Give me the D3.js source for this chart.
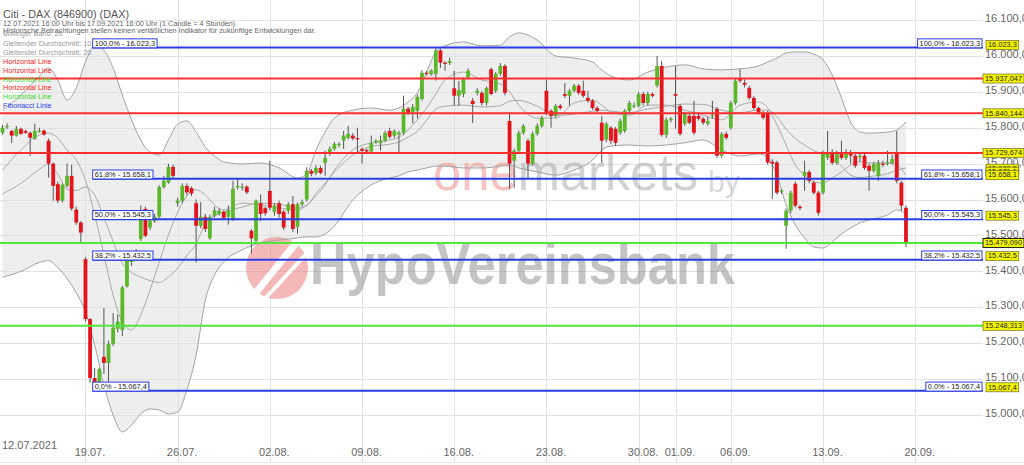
<!DOCTYPE html>
<html><head><meta charset="utf-8">
<script src="https://cdn.jsdelivr.net/npm/d3@7"></script>
<style>body{margin:0;background:#fff}svg{display:block;font-family:"Liberation Sans",Arial,sans-serif}</style>
</head><body><svg id="c" width="1024" height="465"></svg>
<script>
// ---------- DATA ----------
const opens=[15786,15802,15791,15778,15797,15791,15786,15770,15790,15792,
15764,15700,15643,15597,15638,15666,15572,15536,15434,15267,
15103,15087,15162,15145,15198,15240,15237,15358,15426,15445,
15490,15574,15522,15540,15552,15635,15647,15691,15590,15597,
15638,15632,15590,15527,15552,15492,15555,15560,15566,15552,
15546,15634,15634,15636,15513,15485,15590,15576,15624,15566,
15590,15566,15569,15587,15524,15587,15600,15680,15674,15688,
15702,15727,15741,15752,15764,15772,15778,15771,15741,15738,
15734,15760,15757,15764,15791,15778,15781,15786,15853,15842,
15847,15880,15953,15949,15950,16015,15981,15980,15910,15889,
15894,15940,15875,15897,15897,15869,15963,15903,15950,15972,
15819,15708,15736,15786,15764,15700,15783,15805,15903,15847,
15833,15861,15894,15889,15903,15917,15903,15883,15875,15855,
15814,15767,15800,15797,15786,15791,15847,15860,15861,15894,
15869,15894,15917,15972,15780,15822,15894,15861,15811,15833,
15833,15833,15825,15811,15833,15852,15722,15783,15800,15869,
15936,15925,15911,15883,15855,15842,15842,15705,15703,15622,
15527,15569,15644,15580,15666,15677,15647,15619,15619,15716,
15730,15702,15730,15716,15730,15722,15718,15722,15694,15680,
15666,15700,15700,15702,15730,15647,15577];
const highs=[15808,15812,15794,15805,15800,15794,15789,15811,15800,15795,
15770,15703,15650,15645,15700,15697,15580,15540,15440,15270,
15131,15131,15298,15207,15284,15280,15360,15450,15455,15462,
15583,15580,15548,15560,15640,15666,15700,15697,15605,15645,
15645,15636,15600,15593,15560,15558,15580,15575,15570,15583,
15652,15660,15645,15640,15518,15600,15614,15580,15708,15590,
15597,15572,15592,15610,15592,15600,15690,15685,15695,15694,
15736,15748,15760,15760,15791,15805,15785,15800,15745,15742,
15778,15768,15778,15792,15800,15795,15792,15889,15858,15866,
15892,15960,15958,15963,16023.3,16020,15986,15995,15959,15930,
15940,15965,15883,15910,15903,15915,15968,15955,15980,15977,
15842,15742,15792,15810,15770,15790,15812,15833,15935,15852,
15866,15866,15924,15908,15922,15922,15931,15903,15880,15860,
15833,15816,15805,15802,15825,15852,15875,15870,15900,15900,
15900,15898,16000,15986,15828,15830,15972,15866,15845,15838,
15875,15840,15830,15830,15875,15858,15788,15790,15875,15937,
15963,15935,15917,15888,15858,15847,15847,15712,15708,15630,
15575,15625,15650,15585,15708,15682,15652,15624,15736,15791,
15740,15736,15764,15740,15738,15728,15730,15728,15700,15705,
15710,15708,15736,15725,15791,15652,15583];
const lows=[15780,15797,15758,15775,15780,15783,15722,15766,15786,15778,
15661,15597,15590,15592,15633,15569,15530,15480,15260,15090,
15067.4,15068,15114,15087,15192,15230,15220,15355,15415,15440,
15485,15495,15515,15535,15548,15630,15644,15660,15580,15590,
15612,15610,15425,15520,15510,15488,15550,15555,15545,15530,
15540,15628,15625,15615,15450,15480,15540,15555,15570,15555,
15550,15515,15560,15510,15505,15580,15595,15665,15668,15670,
15666,15722,15736,15746,15741,15768,15765,15730,15700,15728,
15730,15755,15736,15760,15770,15772,15730,15780,15835,15812,
15826,15875,15945,15945,15931,15966,15959,15975,15861,15861,
15885,15935,15813,15890,15862,15862,15890,15897,15945,15890,
15630,15633,15730,15780,15660,15695,15778,15800,15835,15800,
15828,15850,15883,15861,15898,15892,15884,15870,15850,15842,
15702,15760,15755,15750,15780,15786,15842,15855,15856,15862,
15862,15884,15912,15775,15772,15815,15797,15778,15805,15810,
15780,15820,15808,15806,15825,15716,15716,15766,15795,15864,
15925,15912,15878,15850,15837,15823,15697,15602,15613,15616,
15463,15562,15578,15570,15624,15645,15614,15555,15614,15710,
15697,15697,15711,15710,15700,15688,15705,15683,15624,15675,
15652,15690,15695,15697,15645,15569,15468];
const closes=[15800,15805,15778,15797,15783,15786,15772,15791,15792,15781,
15700,15638,15597,15641,15666,15575,15536,15508,15267,15103,
15087,15128,15145,15198,15243,15260,15355,15446,15443,15452,
15568,15499,15541,15552,15635,15652,15691,15666,15597,15638,
15620,15617,15527,15552,15518,15552,15570,15569,15549,15569,
15630,15638,15636,15620,15492,15597,15560,15562,15577,15583,
15560,15522,15587,15518,15587,15593,15680,15672,15688,15674,
15716,15741,15755,15755,15778,15783,15770,15769,15736,15734,
15757,15764,15764,15786,15775,15791,15786,15853,15842,15858,
15886,15953,15950,15959,16015,15981,15980,15986,15889,15905,
15935,15959,15866,15903,15869,15911,15894,15950,15972,15897,
15700,15736,15786,15805,15700,15783,15805,15827,15842,15833,
15861,15855,15889,15903,15917,15897,15889,15875,15855,15847,
15764,15811,15764,15758,15819,15847,15869,15862,15894,15869,
15894,15889,15972,15780,15822,15825,15889,15783,15839,15814,
15786,15825,15814,15819,15836,15722,15783,15772,15869,15931,
15931,15920,15883,15855,15842,15828,15703,15700,15619,15626,
15569,15619,15583,15576,15677,15652,15619,15563,15730,15730,
15702,15730,15716,15730,15722,15694,15722,15688,15680,15699,
15702,15699,15704,15713,15652,15583,15479];

// indicator samples (candle index -> value)
const bandIdx=[0,4,8,10,12,14,16,18,20,22,24,26,28,30,32,34,36,38,40,42,44,46,48,52,56,60,64,66,68,70,
72,76,80,84,86,88,90,92,94,96,100,104,108,110,112,116,120,124,128,130,132,136,140,144,148,152,156,160,164,166,
168,170,172,174,176,178,180,182,184,186,188,192,194,196];
const bandUpper=[15849,15891,15944,15966,15933,15877,15911,15983,16030,16016,
15966,15891,15822,15766,15732,15724,15766,15810,15819,15788,
15746,15721,15705,15699,15702,15688,15660,15671,15738,15788,
15827,15849,15855,15849,15855,15872,15897,15955,16011,16028,
16039,16028,16030,16053,16064,16044,16000,15994,15983,15961,
15944,15933,15955,15969,15975,15964,15961,15964,15972,15983,
15994,16008,16011,16011,16005,15989,15947,15883,15816,15788,
15785,15788,15794,15816];
const bandLower=[15384,15400,15425,15430,15410,15380,15340,15287,15195,15084,
15000,14953,14972,15003,15017,15014,15003,15008,15070,15167,
15320,15390,15426,15460,15479,15487,15493,15496,15496,15504,
15526,15599,15641,15660,15666,15677,15682,15688,15693,15693,
15688,15688,15693,15696,15688,15677,15668,15682,15710,15738,
15749,15752,15749,15752,15758,15766,15738,15721,15727,15716,
15668,15585,15529,15493,15468,15465,15482,15504,15521,15535,
15543,15557,15571,15560];
const ma10=[15682,15738,15780,15785,15771,15738,15710,15654,15557,15446,
15334,15259,15237,15279,15348,15426,15501,15565,15610,15627,
15613,15585,15571,15590,15585,15577,15571,15585,15610,15641,
15682,15738,15758,15766,15774,15794,15822,15855,15894,15933,
15955,15933,15922,15900,15863,15827,15827,15869,15877,15863,
15844,15835,15863,15863,15849,15835,15822,15863,15872,15855,
15808,15752,15696,15668,15649,15646,15660,15677,15696,15705,
15702,15702,15696,15668];
const ma20=[15616,15645,15684,15698,15671,15628,15625,15635,15612,15550,
15483,15422,15397,15384,15374,15369,15384,15409,15444,15477,
15533,15555,15565,15579,15590,15587,15576,15583,15617,15646,
15676,15724,15748,15754,15760,15774,15790,15821,15852,15860,
15863,15858,15861,15874,15876,15860,15834,15838,15846,15849,
15846,15842,15852,15860,15866,15865,15849,15842,15849,15849,
15831,15796,15770,15752,15736,15727,15714,15693,15668,15661,
15664,15672,15682,15688];

const priceTicks=[15000,15100,15200,15300,15400,15500,15600,15700,15800,15900,16000,16100];
const dateTickIdx=[18,38,58,78,98,118,138,146,158,178,198];
const dateTickLabels=["19.07.","26.07.","02.08.","09.08.","16.08.","23.08.","30.08.","01.09.","06.09.","13.09.","20.09."];

const hLineValues=[15937.047,15840.144,15729.674,15479.090,15248.313];
const hLineColors=["#ff2e2e","#ff2e2e","#ff2e2e","#4fe83a","#4fe83a"];
const fibValues=[16023.3,15658.1,15545.3,15432.5,15067.4];
const fibNames=["100,0%","61,8%","50,0%","38,2%","0,0%"];
const extraValueLabels=["15.689,5","15.671,1"];

const legendItems=[["Bollinger Band: 20","#999"],["Gleitender Durchschnitt: 10","#999"],["Gleitender Durchschnitt: 20","#999"],
["Horizontal Line","#ff2020"],["Horizontal Line","#ff2020"],["Horizontal Line","#3ddc2a"],["Horizontal Line","#ff2020"],["Horizontal Line","#3ddc2a"],["Fibonacci Linie","#2d3ee8"]];

// ---------- CHART ----------
const svg=d3.select("#c");
const plotRight=983;
const x=d3.scaleLinear().domain([0,198]).range([2.5,915.2]);
const y=d3.scaleLinear().domain([15000,16100]).range([415,20]);
const de=d3.formatLocale({decimal:",",thousands:".",grouping:[3],currency:["","€"]});
const f1=de.format(",.1f"), f3=de.format(",.3f");

const band=bandIdx.map((d,k)=>({i:d,u:bandUpper[k],l:bandLower[k],a:ma10[k],b:ma20[k]}));
const curve=d3.curveMonotoneX;

svg.append("rect").attr("width",1024).attr("height",465).attr("fill","#fff");
svg.append("path").datum(band)
  .attr("d",d3.area().x(d=>x(d.i)).y0(d=>y(d.l)).y1(d=>y(d.u)).curve(curve))
  .attr("fill","#eeeeee");

// grid
svg.append("g").selectAll("line").data(priceTicks).join("line")
  .attr("x1",0).attr("x2",plotRight).attr("y1",d=>Math.round(y(d))+0.5).attr("y2",d=>Math.round(y(d))+0.5)
  .attr("stroke","#e1e1e1");
svg.append("g").selectAll("line").data(dateTickIdx).join("line")
  .attr("x1",d=>Math.round(x(d))+0.5).attr("x2",d=>Math.round(x(d))+0.5).attr("y1",0).attr("y2",463)
  .attr("stroke","#e1e1e1");
svg.append("line").attr("x1",0).attr("x2",1024).attr("y1",462.5).attr("y2",462.5).attr("stroke","#e6e6e6");

// watermark
const wm=svg.append("g");
const om=wm.append("text").attr("x",433).attr("y",190).attr("font-size",52).attr("textLength",265).attr("lengthAdjust","spacingAndGlyphs");
om.append("tspan").text("one").attr("fill","#f19a9a").attr("fill-opacity",0.6);
om.append("tspan").text("markets").attr("fill","#9c9c9c").attr("fill-opacity",0.45);
wm.append("text").attr("x",708).attr("y",192).attr("font-size",30).attr("fill","#9c9c9c").attr("fill-opacity",0.4).text("by");
const logo=wm.append("g").attr("opacity",0.55);
logo.append("circle").attr("cx",277).attr("cy",268).attr("r",31).attr("fill","#ee7f7f");
logo.append("path").attr("d","M250,300 L300,238").attr("stroke","#fff").attr("stroke-width",7);
logo.append("path").attr("d","M262,302 L308,252").attr("stroke","#fff").attr("stroke-width",4);
wm.append("text").attr("x",310).attr("y",284).attr("font-size",57).attr("font-weight","bold").attr("textLength",425).attr("lengthAdjust","spacingAndGlyphs")
  .attr("fill","#8a8a8a").attr("fill-opacity",0.5).text("HypoVereinsbank");

// bands & MAs
const ln=(acc)=>d3.line().x(d=>x(d.i)).y(d=>y(acc(d))).curve(curve);
[["u","#a3a3a3"],["l","#a3a3a3"],["a","#ababab"],["b","#ababab"]].forEach(([k,c])=>{
  svg.append("path").datum(band).attr("d",ln(d=>d[k])).attr("fill","none").attr("stroke",c).attr("stroke-width",1);
});

// candles
const idx=d3.range(opens.length);
const cg=svg.append("g");
cg.selectAll("line").data(idx).join("line")
  .attr("x1",i=>x(i)).attr("x2",i=>x(i)).attr("y1",i=>y(highs[i])).attr("y2",i=>y(lows[i]))
  .attr("stroke","#555").attr("stroke-width",1);
cg.selectAll("rect").data(idx).join("rect")
  .attr("x",i=>x(i)-1.9).attr("width",3.8)
  .attr("y",i=>y(Math.max(opens[i],closes[i])))
  .attr("height",i=>Math.max(1.2,Math.abs(y(opens[i])-y(closes[i]))))
  .attr("fill",i=>closes[i]>=opens[i]?"#5cb82b":"#e3141c");

// horizontal lines
svg.append("g").selectAll("line").data(hLineValues).join("line")
  .attr("x1",0).attr("x2",plotRight).attr("y1",d=>y(d)).attr("y2",d=>y(d))
  .attr("stroke",(d,i)=>hLineColors[i]).attr("stroke-width",2);
// fib lines
const fibStart=x(20)-2;
svg.append("g").selectAll("line").data(fibValues).join("line")
  .attr("x1",fibStart).attr("x2",plotRight).attr("y1",d=>y(d)).attr("y2",d=>y(d))
  .attr("stroke","#2a3ce6").attr("stroke-width",2);

// y axis labels
const ya=svg.append("g").attr("transform",`translate(${plotRight},0)`)
  .call(d3.axisRight(y).tickValues(priceTicks).tickSize(0).tickPadding(2).tickFormat(d=>f1(d)));
ya.select(".domain").remove();
ya.attr("font-family","'Liberation Sans',Arial,sans-serif").attr("font-size",11);
ya.selectAll("text").attr("fill","#666").attr("dy","0.15em");

// x axis labels
const xa=svg.append("g").attr("transform","translate(4,445)")
  .call(d3.axisBottom(x).tickValues(dateTickIdx).tickSize(0).tickPadding(3).tickFormat((d,i)=>dateTickLabels[i]));
xa.select(".domain").remove();
xa.attr("font-family","'Liberation Sans',Arial,sans-serif").attr("font-size",11);
xa.selectAll("text").attr("fill","#666");
svg.append("text").attr("x",2).attr("y",449).attr("font-size",11).attr("fill","#666").text("12.07.2021");

// label helpers
function box(xp,yBottom,txt,anchor,fill,stroke,sw){
  const g=svg.append("g");
  const r=g.append("rect");
  const t=g.append("text").attr("font-size",7.4).attr("fill","#222").text(txt);
  const w=t.node().getComputedTextLength()+4;
  const x0=anchor==="end"?xp-w:xp;
  r.attr("x",x0).attr("y",yBottom-9).attr("width",w).attr("height",9).attr("fill",fill).attr("stroke",stroke).attr("stroke-width",sw);
  t.attr("x",x0+2).attr("y",yBottom-2.2);
}
// legend & titles
svg.append("text").attr("x",3).attr("y",18).attr("font-size",10.8).attr("fill","#555").text("Citi - DAX (846900) (DAX)");
svg.append("text").attr("x",3).attr("y",25.8).attr("font-size",7.3).attr("fill","#666").text("12.07.2021 16:00 Uhr bis 17.09.2021 16:00 Uhr (1 Candle = 4 Stunden)");
svg.append("text").attr("x",3).attr("y",32.8).attr("font-size",7.3).attr("fill","#666").text("Historische Betrachtungen stellen keinen verläßlichen Indikator für zukünftige Entwicklungen dar.");
const legY=[36.2,45.5,54.5,63.5,72.5,81.5,90.3,99.3,108.2];
legendItems.forEach((d,i)=>{
  svg.append("text").attr("x",3).attr("y",legY[i]).attr("font-size",7.3).attr("fill",d[1]).text(d[0]);
});

// fib label boxes
fibValues.forEach((v,i)=>{
  const lab=fibNames[i]+" - "+f1(v);
  box(fibStart,y(v)+0.3,lab,"start","#fff","#2a3ce6",1);
  box(982,y(v)+0.3,lab,"end","#fff","#2a3ce6",1);
});
// value boxes (yellow)
hLineValues.forEach((v,i)=>{
  box(983,y(v)+4.5,f3(v),"start","#f4f400",i===3?"#222":"#6b6b2a",i===3?1:0.7);
});
box(986,y(fibValues[1])-5.5,extraValueLabels[0],"start","#f4f400","#6b6b2a",0.7);
box(986,y(fibValues[1])-2.5,extraValueLabels[1],"start","#f4f400","#6b6b2a",0.7);
fibValues.forEach((v,i)=>{
  box(986,y(v)+(i===0?2:1),f1(v),"start","#f4f400","#6b6b2a",0.7);
});
</script></body></html>
